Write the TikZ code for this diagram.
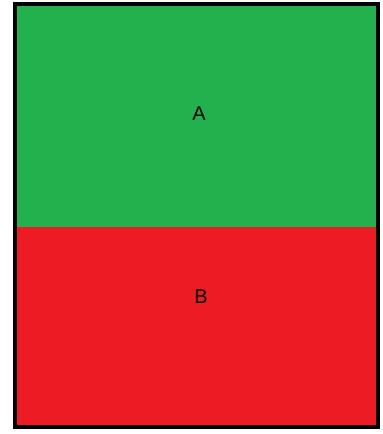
\documentclass[tikz,border=0pt]{standalone}
\usepackage{fontspec}
\setmainfont{Liberation Sans}
\usepackage{xcolor}
\definecolor{paintgreen}{HTML}{22B14C}
\definecolor{paintred}{HTML}{ED1C24}
\usetikzlibrary{positioning}

\begin{document}
\begin{tikzpicture}[x=1pt, y=1pt, font=\fontsize{20}{24}\selectfont,
  lbl/.style={inner sep=0pt}]
\useasboundingbox (0,0) rectangle (383,434);
% the two parts
\fill[paintgreen] (15,430) rectangle (378,207);
\fill[paintred] (15,207) rectangle (378,7);
\draw[line width=4pt] (15,7) rectangle (378,430);
\node[lbl] (A) at (199,320) {A};
\node[lbl] (B) at (201,137) {B};
\end{tikzpicture}
\end{document}
